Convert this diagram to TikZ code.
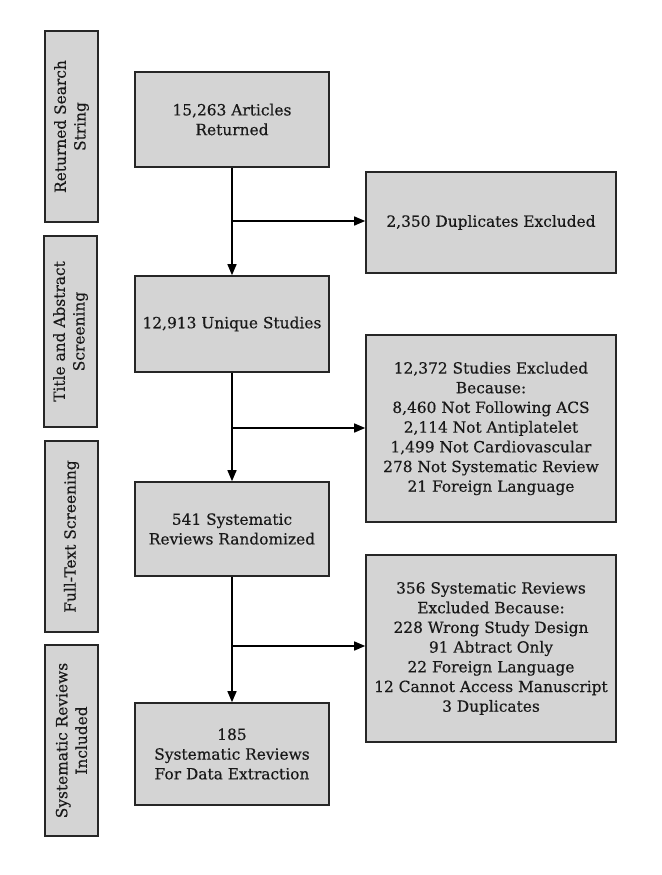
\documentclass[tikz,border=0pt]{standalone}
\usepackage{fontspec}
\setmainfont{DejaVu Serif}[UprightFeatures={FakeBold=0.4}]
\usetikzlibrary{arrows.meta}
\begin{document}
\begin{tikzpicture}[x=1pt,y=-1pt,
  box/.style={draw=black!85,line width=1.6pt,fill=black!17,align=center,
    inner sep=0pt,font=\fontsize{15.4}{19.7}\selectfont,text=black!90},
  stagebox/.style={box,rotate=90},
  arr/.style={line width=1.4pt,-{Triangle[length=11pt,width=9pt]}},
  ln/.style={line width=1.4pt}]
\useasboundingbox (0,0) rectangle (661,875);
\fill[white] (0,0) rectangle (661,875);
% stage boxes
\node[stagebox,minimum width=191pt,minimum height=53pt] (s1) at (71.5,126.5) {Returned Search\\String};
\node[stagebox,minimum width=191pt,minimum height=53pt] (s2) at (70.5,331.5) {Title and Abstract\\Screening};
\node[stagebox,minimum width=191pt,minimum height=53pt] (s3) at (71.5,536.5) {Full-Text Screening};
\node[stagebox,minimum width=191pt,minimum height=53pt] (s4) at (71.5,740.5) {Systematic Reviews\\Included};
% main boxes
\node[box,minimum width=194pt,minimum height=95pt] (b1) at (232,119.5) {15,263 Articles\\Returned};
\node[box,minimum width=194pt,minimum height=96pt] (b2) at (232,324) {12,913 Unique Studies};
\node[box,minimum width=194pt,minimum height=94pt] (b3) at (232,529) {541 Systematic\\Reviews Randomized};
\node[box,minimum width=194pt,minimum height=102pt] (b4) at (232,754) {185\\Systematic Reviews\\For Data Extraction};
% right boxes
\node[box,minimum width=250pt,minimum height=101pt] (r1) at (491,222.5) {2,350 Duplicates Excluded};
\node[box,minimum width=250pt,minimum height=187pt] (r2) at (491,428.5) {12,372 Studies Excluded\\Because:\\8,460 Not Following ACS\\2,114 Not Antiplatelet\\1,499 Not Cardiovascular\\278 Not Systematic Review\\21 Foreign Language};
\node[box,minimum width=250pt,minimum height=187pt] (r3) at (491,648.5) {356 Systematic Reviews\\Excluded Because:\\228 Wrong Study Design\\91 Abtract Only\\22 Foreign Language\\12 Cannot Access Manuscript\\3 Duplicates};
% junctions
\coordinate (j1) at (232,221);
\coordinate (j2) at (232,428);
\coordinate (j3) at (232,646);
% connectors
\draw[arr] (b1.south) -- (b2.north);
\draw[arr] (b2.south) -- (b3.north);
\draw[arr] (b3.south) -- (b4.north);
\draw[arr] (j1) -- (j1 -| r1.west);
\draw[arr] (j2) -- (j2 -| r2.west);
\draw[arr] (j3) -- (j3 -| r3.west);
\end{tikzpicture}
\end{document}
